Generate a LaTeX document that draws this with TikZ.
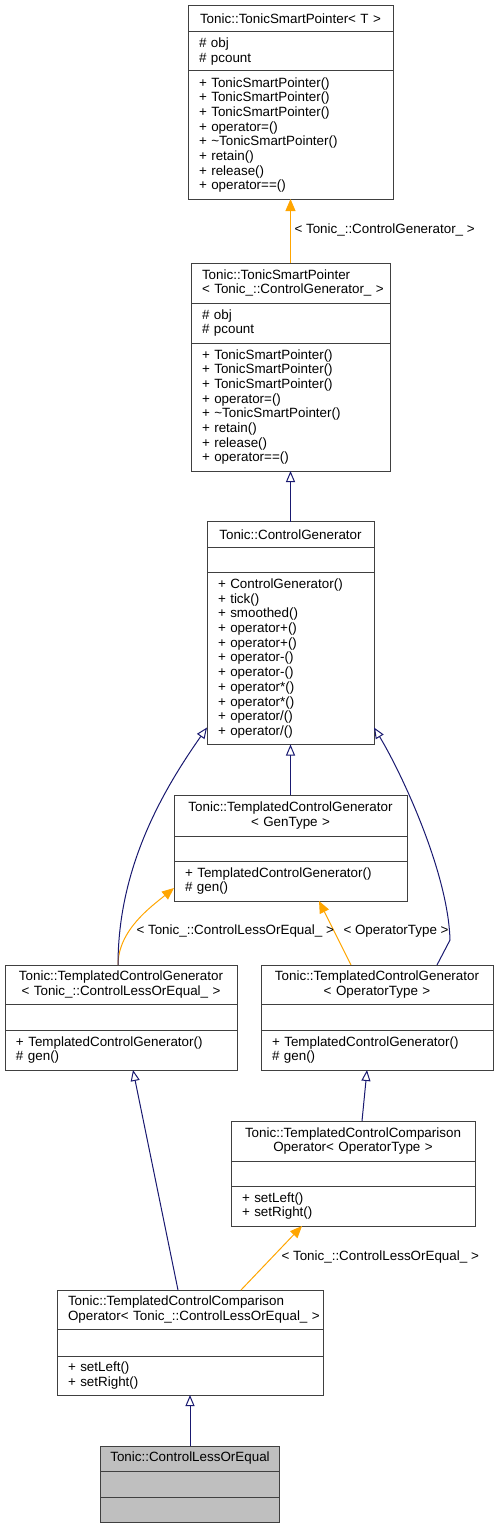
\documentclass[tikz,border=0pt]{standalone}
\usepackage{fontspec}
\setmainfont{Liberation Sans}
\usetikzlibrary{positioning,calc,arrows.meta}
\tikzset{every picture/.style={line width=1pt}}
\newcommand{\dxfont}{\fontsize{13.4}{14.7}\selectfont}

\begin{document}
\begin{tikzpicture}[x=1pt,y=1pt,yscale=-1,xscale=1,
  boxline/.style={draw={rgb, 255:red, 64; green, 64; blue, 64 }, anchor=north, inner ysep=0pt, outer sep=0pt, font=\dxfont},
  titlepart/.style={boxline, inner xsep=4pt, align=center},
  lefttitle/.style={boxline, inner xsep=11pt, align=left},
  memberpart/.style={boxline, inner xsep=11pt, align=left},
  inherit/.style={draw={rgb, 255:red, 25; green, 25; blue, 112 }, -{Triangle[open, length=11pt, width=9pt]}},
  templ/.style={draw={rgb, 255:red, 255; green, 165; blue, 0 }, -{Triangle[length=12pt, width=10pt]}},
  lbl/.style={anchor=west, inner sep=0pt, font=\dxfont}
]
        \useasboundingbox (0,0) rectangle (499,1528);

        % Class: TonicSmartPointer< T >
        \node [titlepart, text width=197, minimum height=26] (b1t) at (290.5,6) {Tonic::TonicSmartPointer< T >};
        \node [memberpart, text width=183, minimum height=39, below=0pt of b1t] (b1a) {\# obj\\\# pcount};
        \node [memberpart, text width=183, minimum height=128, below=0pt of b1a] (b1m) {+ TonicSmartPointer()\\+ TonicSmartPointer()\\+ TonicSmartPointer()\\+ operator=()\\+ \textasciitilde TonicSmartPointer()\\+ retain()\\+ release()\\+ operator==()};

        % Class: TonicSmartPointer< ControlGenerator_ >
        \node [lefttitle, text width=177, minimum height=40] (b2t) at (290.5,263) {Tonic::TonicSmartPointer\\<~Tonic\_::ControlGenerator\_~>};
        \node [memberpart, text width=177, minimum height=40, below=0pt of b2t] (b2a) {\# obj\\\# pcount};
        \node [memberpart, text width=177, minimum height=128, below=0pt of b2a] (b2m) {+ TonicSmartPointer()\\+ TonicSmartPointer()\\+ TonicSmartPointer()\\+ operator=()\\+ \textasciitilde TonicSmartPointer()\\+ retain()\\+ release()\\+ operator==()};

        % Class: ControlGenerator
        \node [titlepart, text width=159, minimum height=25.5] (b3t) at (290.5,521.5) {Tonic::ControlGenerator};
        \node [memberpart, text width=145, minimum height=25.5, below=0pt of b3t] (b3a) {};
        \node [memberpart, text width=145, minimum height=172, below=0pt of b3a] (b3m) {+ ControlGenerator()\\+ tick()\\+ smoothed()\\+ operator+()\\+ operator+()\\+ operator-()\\+ operator-()\\+ operator*()\\+ operator*()\\+ operator/()\\+ operator/()};

        % Class: TemplatedControlGenerator< GenType >
        \node [titlepart, text width=225, minimum height=41] (b4t) at (290.5,795) {Tonic::TemplatedControlGenerator\\< GenType >};
        \node [memberpart, text width=211, minimum height=25, below=0pt of b4t] (b4a) {};
        \node [memberpart, text width=211, minimum height=40, below=0pt of b4a] (b4m) {+ TemplatedControlGenerator()\\\# gen()};

        % Class: TemplatedControlGenerator< ControlLessOrEqual_ >
        \node [titlepart, text width=224, minimum height=39] (b5t) at (121,965) {Tonic::TemplatedControlGenerator\\< Tonic\_::ControlLessOrEqual\_ >};
        \node [memberpart, text width=210, minimum height=26, below=0pt of b5t] (b5a) {};
        \node [memberpart, text width=210, minimum height=40, below=0pt of b5a] (b5m) {+ TemplatedControlGenerator()\\\# gen()};

        % Class: TemplatedControlGenerator< OperatorType >
        \node [titlepart, text width=224, minimum height=39] (b6t) at (377,965) {Tonic::TemplatedControlGenerator\\< OperatorType >};
        \node [memberpart, text width=210, minimum height=26, below=0pt of b6t] (b6a) {};
        \node [memberpart, text width=210, minimum height=40, below=0pt of b6a] (b6m) {+ TemplatedControlGenerator()\\\# gen()};

        % Class: TemplatedControlComparisonOperator< OperatorType >
        \node [titlepart, text width=236, minimum height=40] (b7t) at (353,1121) {Tonic::TemplatedControlComparison\\Operator< OperatorType >};
        \node [memberpart, text width=222, minimum height=25, below=0pt of b7t] (b7a) {};
        \node [memberpart, text width=222, minimum height=40, below=0pt of b7a] (b7m) {+ setLeft()\\+ setRight()};

        % Class: TemplatedControlComparisonOperator< ControlLessOrEqual_ >
        \node [lefttitle, text width=244, minimum height=39] (b8t) at (190,1290) {Tonic::TemplatedControlComparison\\Operator<~Tonic\_::ControlLessOrEqual\_~>};
        \node [memberpart, text width=244, minimum height=27, below=0pt of b8t] (b8a) {};
        \node [memberpart, text width=244, minimum height=39, below=0pt of b8a] (b8m) {+ setLeft()\\+ setRight()};

        % Class: ControlLessOrEqual
        \node [titlepart, fill={rgb, 255:red, 191; green, 191; blue, 191 }, text width=171, minimum height=25] (b9t) at (190,1446) {Tonic::ControlLessOrEqual};
        \node [memberpart, fill={rgb, 255:red, 191; green, 191; blue, 191 }, text width=157, minimum height=26, below=0pt of b9t] (b9a) {};
        \node [memberpart, fill={rgb, 255:red, 191; green, 191; blue, 191 }, text width=157, minimum height=25, below=0pt of b9a] (b9m) {};

        %Template links
        \draw [templ] (b2t.north) -- (b1m.south) ;
        \draw [templ] ($(b5t.north)+(-3,0)$) .. controls +(0,-35) and +(-22,18) .. ($(b4m.west)+(0,7)$) ;
        \draw [templ] ($(b6t.north)+(-26,0)$) -- ($(b4m.south)+(28.5,0)$) ;
        \draw [templ] ($(b8t.north)+(51,0)$) -- ($(b7m.south)+(-51,0)$) ;

        %Inheritance links
        \draw [inherit] (b3t.north) -- (b2m.south) ;
        \draw [inherit] (b4t.north) -- (b3m.south) ;
        \draw [inherit] ($(b5t.north)+(-3,0)$) .. controls +(0,-100) and +(-42,60) .. ($(b3m.west)+(0,69)$) ;
        \draw [inherit] ($(b6t.north)+(60,0)$) -- ++(13,-25) .. controls +(-2,-70) and +(25,41) .. ($(b3m.east)+(0,69)$) ;
        \draw [inherit] ($(b7t.north)+(9,0)$) -- ($(b6m.south)+(-10,0)$) ;
        \draw [inherit] ($(b8t.north)+(-12,0)$) -- ($(b5m.south)+(12,0)$) ;
        \draw [inherit] (b9t.north) -- (b8m.south) ;

        % Text Node
        \node [lbl] (lblgen) at (294,230) {< Tonic\_::ControlGenerator\_ >};
        % Text Node
        \node [lbl] (lblleqa) at (136,931.5) {< Tonic\_::ControlLessOrEqual\_ >};
        % Text Node
        \node [lbl] (lblop) at (343,931.5) {< OperatorType >};
        % Text Node
        \node [lbl] (lblleqb) at (281,1257) {< Tonic\_::ControlLessOrEqual\_ >};
\end{tikzpicture}
\end{document}
